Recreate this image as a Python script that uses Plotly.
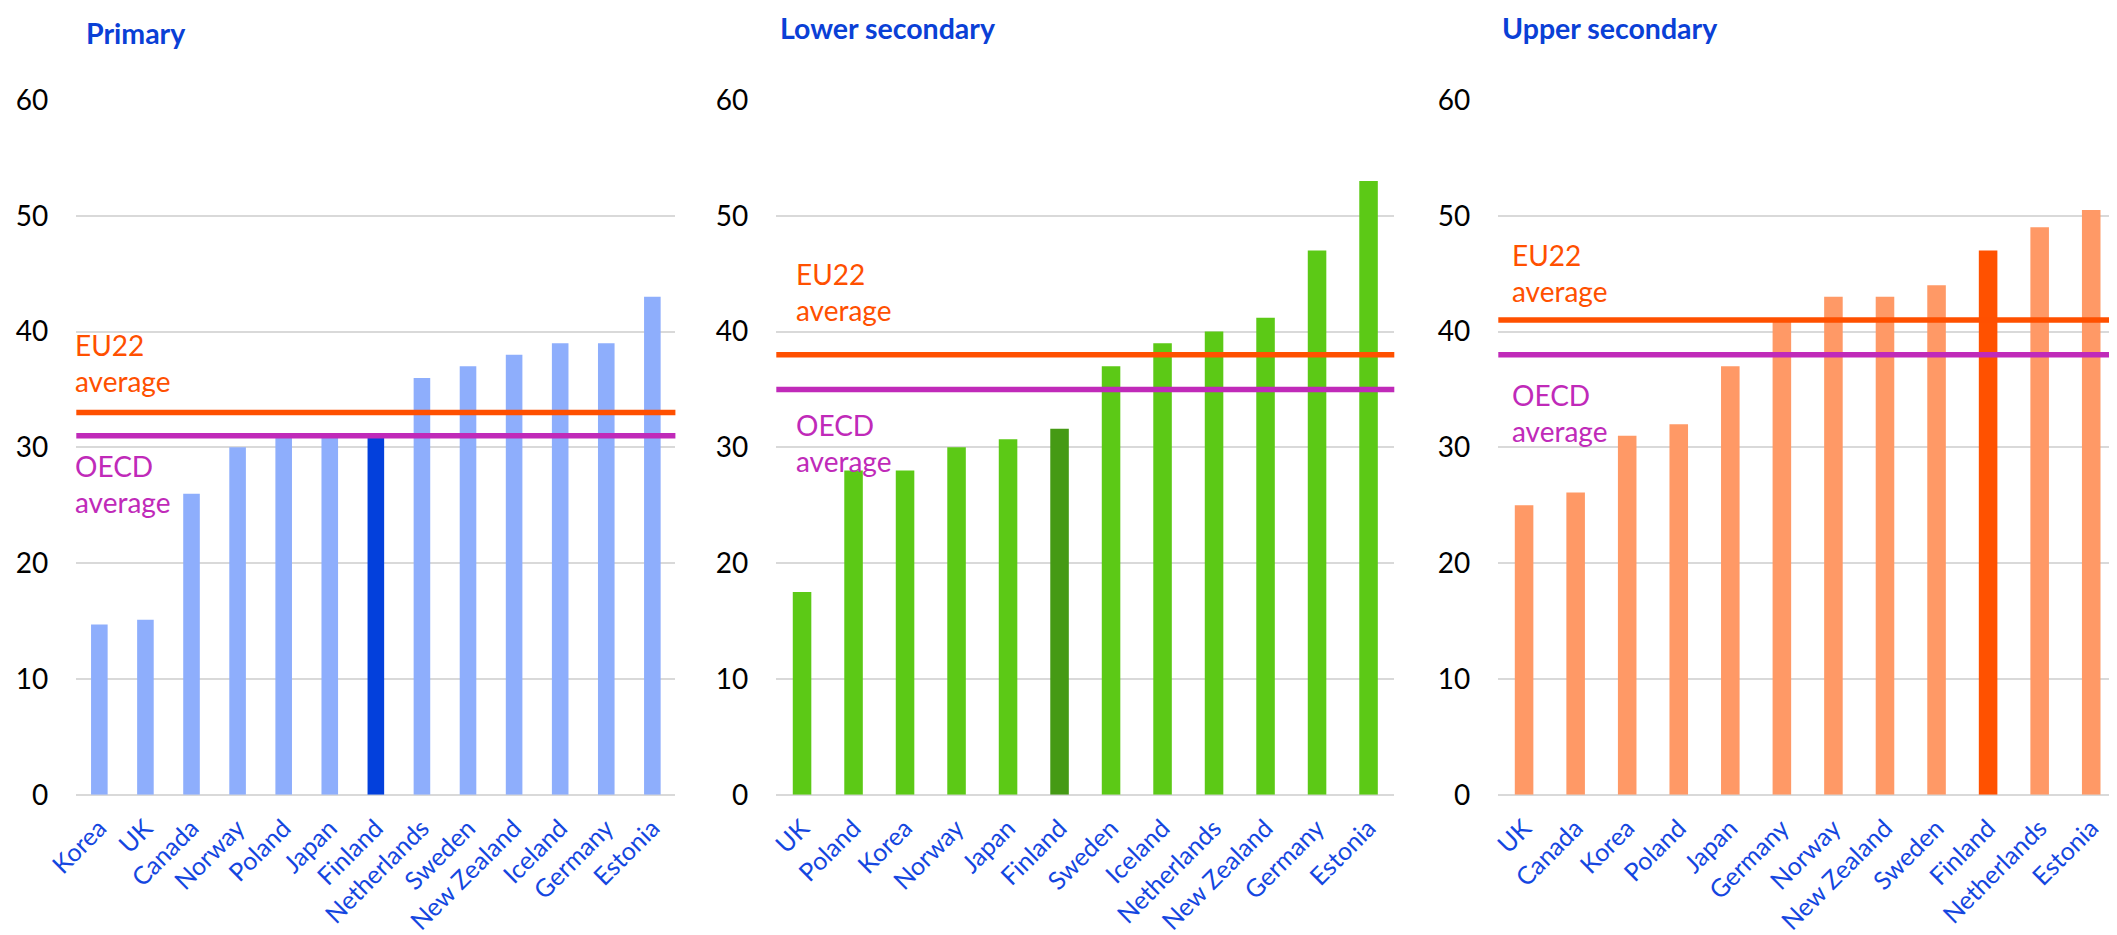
import plotly.graph_objects as go

W, H = 2117, 935
PAGE_PAD = 8  # default body margin of the html page
FW, FH = W - PAGE_PAD, H - PAGE_PAD

# ---- data ----
primary_countries = ["Korea", "UK", "Canada", "Norway", "Poland", "Japan", "Finland",
                     "Netherlands", "Sweden", "New Zealand", "Iceland", "Germany", "Estonia"]
primary_values = [14.7, 15.1, 26.0, 30.0, 30.8, 30.8, 30.8, 36.0, 37.0, 38.0, 39.0, 39.0, 43.0]

lower_countries = ["UK", "Poland", "Korea", "Norway", "Japan", "Finland", "Sweden",
                   "Iceland", "Netherlands", "New Zealand", "Germany", "Estonia"]
lower_values = [17.5, 28.0, 28.0, 30.0, 30.7, 31.6, 37.0, 39.0, 40.0, 41.2, 47.0, 53.0]

upper_countries = ["UK", "Canada", "Korea", "Poland", "Japan", "Germany", "Norway",
                   "New Zealand", "Sweden", "Finland", "Netherlands", "Estonia"]
upper_values = [25.0, 26.1, 31.0, 32.0, 37.0, 41.0, 43.0, 43.0, 44.0, 47.0, 49.0, 50.5]

panel_titles = ["Primary", "Lower secondary", "Upper secondary"]
eu22_average = [33.0, 38.0, 41.0]
oecd_average = [31.0, 35.0, 38.0]
y_ticks = [0, 10, 20, 30, 40, 50, 60]

# ---- styles ----
FONT = "Lato"
light_colors = ["#8EAEFC", "#5CC916", "#FF9966"]
dark_colors = ["#0340DC", "#459A14", "#FF5100"]
EU_COLOR = "#FF5000"
OECD_COLOR = "#C02AB9"
TITLE_COLOR = "#0A40D6"
LABEL_COLOR = "#1446E0"
GRID = "#D9D9D9"


def px_x(px):
    return (px - PAGE_PAD) / FW


def px_y(py):
    return 1 - (py - PAGE_PAD) / FH


# domains in page pixels
x_dom_px = [(76.3, 675.4), (776.3, 1394.3), (1498.3, 2117.0)]
y_bottom_px, y_top_px = 794.7, 100.0
title_pos = [(84, 33), (778, 28), (1500, 28)]
eu_text_y = [37.3, 43.4, 45.1]
oecd_text_y = [26.8, 30.4, 33.0]
text_xshift = [-3, 18, 12]

fig = go.Figure()
panels = [(primary_countries, primary_values),
          (lower_countries, lower_values),
          (upper_countries, upper_values)]

for i, (cats, vals) in enumerate(panels):
    xa = "x" if i == 0 else f"x{i+1}"
    ya = "y" if i == 0 else f"y{i+1}"
    colors = [dark_colors[i] if c == "Finland" else light_colors[i] for c in cats]
    fig.add_trace(go.Bar(x=cats, y=vals, marker=dict(color=colors, line=dict(width=0)),
                         xaxis=xa, yaxis=ya, showlegend=False))
    suffix = "" if i == 0 else str(i + 1)
    x0, x1 = x_dom_px[i]
    fig.update_layout(**{
        f"xaxis{suffix}": dict(
            domain=[px_x(x0), min(1.0, px_x(x1))], anchor=ya, type="category",
            automargin=False, showgrid=False, showline=False, zeroline=False, ticks="",
            tickangle=-45, tickfont=dict(family=FONT, size=25, color=LABEL_COLOR),
            ticklabelstandoff=13,
        ),
        f"yaxis{suffix}": dict(
            domain=[px_y(y_bottom_px), px_y(y_top_px)], anchor=xa, automargin=False,
            range=[0, 60], tickvals=y_ticks, showgrid=True, gridcolor=GRID, gridwidth=2,
            zeroline=True, zerolinecolor=GRID, zerolinewidth=2, showline=False, ticks="",
            tickfont=dict(family=FONT, size=28, color="#000000"),
            ticklabelstandoff=27,
        ),
    })
    xref_dom = f"{xa} domain"
    fig.add_shape(type="line", xref=xref_dom, yref=ya, x0=0, x1=1,
                  y0=oecd_average[i], y1=oecd_average[i],
                  line=dict(color=OECD_COLOR, width=5.5), layer="above")
    fig.add_shape(type="line", xref=xref_dom, yref=ya, x0=0, x1=1,
                  y0=eu22_average[i], y1=eu22_average[i],
                  line=dict(color=EU_COLOR, width=5.5), layer="above")
    fig.add_annotation(text="EU22<br>average", xref=xref_dom, yref=ya, x=0, y=eu_text_y[i],
                       xanchor="left", yanchor="middle", align="left", showarrow=False,
                       xshift=text_xshift[i],
                       font=dict(family=FONT, size=28, color=EU_COLOR))
    fig.add_annotation(text="OECD<br>average", xref=xref_dom, yref=ya, x=0, y=oecd_text_y[i],
                       xanchor="left", yanchor="middle", align="left", showarrow=False,
                       xshift=text_xshift[i],
                       font=dict(family=FONT, size=28, color=OECD_COLOR))
    tx, ty = title_pos[i]
    fig.add_annotation(text=f"<b>{panel_titles[i]}</b>", xref="paper", yref="paper",
                       x=px_x(tx), y=px_y(ty), xanchor="left", yanchor="middle",
                       showarrow=False, font=dict(family=FONT, size=28.5, color=TITLE_COLOR))

fig.update_layout(
    width=FW, height=FH, margin=dict(l=0, r=0, t=0, b=0, autoexpand=False),
    paper_bgcolor="white", plot_bgcolor="white",
    bargap=0.64, font=dict(family=FONT),
)

fig.write_html("out.html")
